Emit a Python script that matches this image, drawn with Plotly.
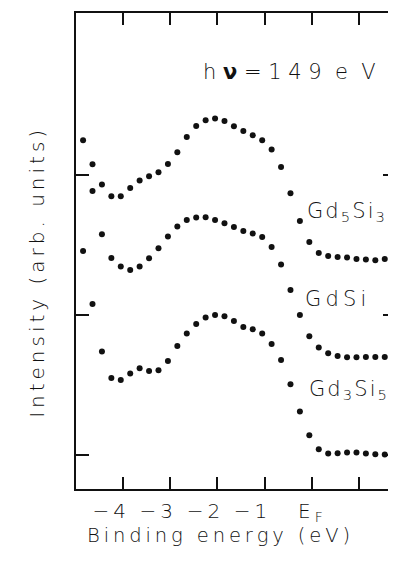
import plotly.graph_objects as go

# Binding energy grid (eV)
energy = [-4.85, -4.65, -4.45, -4.25, -4.05, -3.85, -3.65, -3.45, -3.25, -3.05,
          -2.85, -2.65, -2.45, -2.25, -2.05, -1.85, -1.65, -1.45, -1.25, -1.05,
          -0.85, -0.65, -0.45, -0.25, -0.05, 0.15, 0.35, 0.55, 0.75, 0.95,
          1.15, 1.35, 1.55, 1.75]

# Gd5Si3 (top spectrum) plus one extra point at -4.65
gd5si3_x = energy[:2] + [-4.65] + energy[2:]
gd5si3_y = [2.25, 2.079, 1.888, 1.934, 1.85, 1.85, 1.909, 1.962, 1.993, 2.021, 2.081,
            2.164, 2.274, 2.352, 2.393, 2.405, 2.388, 2.35, 2.316, 2.286, 2.25,
            2.184, 2.059, 1.871, 1.674, 1.524, 1.445, 1.424, 1.416, 1.412, 1.402,
            1.398, 1.393, 1.402, 1.412]

# GdSi (middle spectrum), no point at -4.65
gdsi_x = [energy[0]] + energy[2:]
gdsi_y = [1.459, 1.579, 1.409, 1.348, 1.324, 1.348, 1.407, 1.479, 1.562, 1.634,
          1.681, 1.698, 1.70, 1.681, 1.657, 1.631, 1.602, 1.584, 1.559, 1.488,
          1.362, 1.181, 1.002, 0.85, 0.769, 0.729, 0.709, 0.70, 0.70, 0.702,
          0.702, 0.702, 0.707]

# Gd3Si5 (bottom spectrum), starts at -4.65
gd3si5_x = energy[1:]
gd3si5_y = [1.081, 0.741, 0.552, 0.538, 0.584, 0.621, 0.602, 0.607, 0.674, 0.781,
            0.869, 0.938, 0.984, 1.002, 0.993, 0.959, 0.916, 0.90, 0.869, 0.795,
            0.68, 0.507, 0.312, 0.143, 0.043, 0.012, 0.014, 0.019, 0.019, 0.012,
            0.007, 0.005, 0.007]

T = "\u2009"   # thin space: wide lettering of the original
H = "\u200a"   # hair space
NB = "\u00a0"  # non-breaking space
x_tickvals = [-4, -3, -2, -1, 0, 1]
x_ticktext = ["−" + T + "4", "−" + T + "3", "−" + T + "2", "−" + T + "1",
              NB * 4 + "E" + T + "<sub>F</sub>", ""]
y_tickvals = [0, 1, 2]

labels = ["G" + H + "d" + H + "<sub>5</sub>" + H + "S" + H + "i" + H + "<sub>3</sub>",
          "G" + T + "d" + T + "S" + T + "i",
          "G" + H + "d" + H + "<sub>3</sub>" + H + "S" + H + "i" + H + "<sub>5</sub>"]
label_x = [-0.15, -0.18, -0.11]
label_y = [1.736, 1.114, 0.464]


def spaced(s):
    return T.join(s)


FONT = "DejaVu Sans"
INK = "#111111"

fig = go.Figure()
for xs, ys in [(gd5si3_x, gd5si3_y), (gdsi_x, gdsi_y), (gd3si5_x, gd3si5_y)]:
    fig.add_trace(go.Scatter(x=xs, y=ys, mode="markers",
                             marker=dict(size=6, color=INK), showlegend=False,
                             hoverinfo="skip"))
# helper trace for the right-hand tick axis
fig.add_trace(go.Scatter(x=[], y=[], yaxis="y2", showlegend=False))

yr = [-0.241, 3.159]
fig.update_layout(
    width=380, height=557,
    margin=dict(l=68, r=0, t=5, b=76),
    paper_bgcolor="white", plot_bgcolor="white",
    font=dict(family=FONT, size=20, color=INK, weight=200),
    xaxis=dict(range=[-5, 1.619], tickvals=x_tickvals, ticktext=x_ticktext,
               ticks="inside", ticklen=12, tickwidth=1.5, tickcolor=INK,
               showline=True, linewidth=1.5, linecolor=INK, mirror="ticks",
               showgrid=False, zeroline=False, ticklabelshift=-14,
               ticklabelstandoff=3,
               tickfont=dict(family=FONT, size=20, color=INK, weight=200)),
    yaxis=dict(range=yr, tickvals=y_tickvals, showticklabels=False,
               ticks="inside", ticklen=13, tickwidth=1.5, tickcolor=INK,
               showline=True, linewidth=1.5, linecolor=INK,
               showgrid=False, zeroline=False),
    yaxis2=dict(range=yr, tickvals=y_tickvals, showticklabels=False,
                overlaying="y", side="right", ticks="inside", ticklen=5,
                tickwidth=1.5, tickcolor=INK, showline=False,
                showgrid=False, zeroline=False),
)

for t, lx, ly in zip(labels, label_x, label_y):
    fig.add_annotation(x=lx, y=ly, text=t, showarrow=False, xanchor="left",
                       yanchor="middle",
                       font=dict(family=FONT, size=21, color=INK, weight=200))

hv_text = "h" + NB + "<b>ν</b>" + NB + "=" + NB + "1" + NB + "4" + NB + "9" + NB + NB + "e" + NB + NB + "V"
fig.add_annotation(x=-2.34, y=2.738, text=hv_text, showarrow=False,
                   xanchor="left", yanchor="middle",
                   font=dict(family=FONT, size=21, color=INK, weight=200))

fig.add_annotation(x=0.456, y=0, xref="paper", yref="paper", yshift=-46,
                   text=spaced("Binding energy (eV)"), showarrow=False,
                   xanchor="center", yanchor="middle",
                   font=dict(family=FONT, size=19.5, color=INK, weight=200))
fig.add_annotation(x=-0.125, y=0.452, xref="paper", yref="paper",
                   text=spaced("Intensity (arb. units)"), showarrow=False,
                   textangle=-90, xanchor="center", yanchor="middle",
                   font=dict(family=FONT, size=20, color=INK, weight=200))

fig.write_html("out.html")
